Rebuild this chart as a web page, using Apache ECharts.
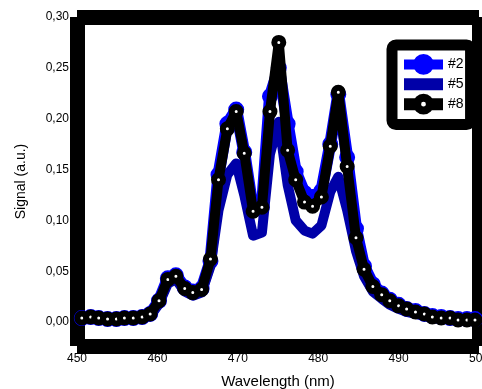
<!DOCTYPE html>
<html><head><meta charset="utf-8">
<script src="https://cdn.jsdelivr.net/npm/echarts@6/dist/echarts.min.js"></script>
<style>html,body{margin:0;padding:0;background:#fff}#c{width:482px;height:389px}</style>
</head><body><div id="c"></div>
<script>
const wavelength = [450.6,451.7,452.7,453.8,454.9,455.9,457.0,458.1,459.1,460.2,461.3,462.3,463.4,464.4,465.5,466.6,467.6,468.7,469.8,470.8,471.9,473.0,474.0,475.1,476.2,477.2,478.3,479.3,480.4,481.5,482.5,483.6,484.7,485.7,486.8,487.9,488.9,490.0,491.0,492.1,493.2,494.2,495.3,496.4,497.4,498.5,499.5];
const s2 = [0.004,0.005,0.004,0.003,0.003,0.004,0.004,0.005,0.008,0.021,0.043,0.046,0.034,0.030,0.033,0.060,0.145,0.195,0.209,0.167,0.110,0.113,0.222,0.250,0.195,0.148,0.127,0.123,0.129,0.175,0.224,0.162,0.092,0.055,0.037,0.028,0.022,0.017,0.013,0.011,0.008,0.006,0.005,0.004,0.003,0.003,0.003];
const s5 = [0.003,0.004,0.003,0.002,0.002,0.003,0.003,0.004,0.006,0.018,0.038,0.042,0.030,0.026,0.029,0.055,0.110,0.145,0.156,0.125,0.085,0.088,0.165,0.197,0.135,0.100,0.090,0.087,0.095,0.128,0.143,0.110,0.070,0.045,0.030,0.023,0.017,0.013,0.010,0.008,0.006,0.004,0.003,0.003,0.002,0.002,0.002];
const s8 = [0.004,0.005,0.004,0.003,0.003,0.004,0.004,0.005,0.008,0.021,0.042,0.045,0.033,0.029,0.032,0.062,0.140,0.190,0.207,0.166,0.109,0.113,0.207,0.275,0.169,0.140,0.118,0.114,0.123,0.173,0.226,0.153,0.083,0.052,0.035,0.027,0.021,0.016,0.013,0.010,0.008,0.005,0.004,0.004,0.002,0.002,0.002];
const seriesNames = ['#2', '#5', '#8'];
const xTicks = [450, 460, 470, 480, 490, 500];
const yTicks = [0, 0.05, 0.10, 0.15, 0.20, 0.25, 0.30];
const xName = 'Wavelength (nm)';
const yName = 'Signal (a.u.)';

const pair = (arr) => wavelength.map((w, i) => [w, arr[i]]);
const FONT = 'Arial, "Liberation Sans", sans-serif';
const frameLine = { show: true, onZero: false, lineStyle: { color: '#000', width: 15, cap: 'butt' } };

const chart = echarts.init(document.getElementById('c'), null, { renderer: 'canvas' });
chart.setOption({
  animation: false,
  backgroundColor: '#fff',
  grid: { left: 77, top: 17, width: 402, bottom: 43, containLabel: false, outerBoundsMode: 'none' },
  legend: {
    orient: 'vertical', left: 392, top: 45,
    padding: [9, 7, 10, 6],
    itemWidth: 39, itemHeight: 16, itemGap: 2.5,
    backgroundColor: '#fff', borderColor: '#000', borderWidth: 11, borderRadius: 4,
    selectedMode: false,
    textStyle: { fontSize: 14, color: '#000', fontFamily: FONT },
    data: [
      { name: seriesNames[0], itemStyle: { color: '#0000ff', borderColor: '#0000ff', borderWidth: 8 }, lineStyle: { color: '#0000ff', width: 10 } },
      { name: seriesNames[1], itemStyle: { color: 'rgba(0,0,0,0)', borderColor: 'rgba(0,0,0,0)', borderWidth: 0 }, lineStyle: { color: '#0000a8', width: 12 } },
      { name: seriesNames[2], itemStyle: { color: '#ffffff', borderColor: '#000', borderWidth: 8 }, lineStyle: { color: '#000', width: 12 } }
    ]
  },
  xAxis: [
    {
      type: 'value', position: 'bottom', min: xTicks[0], max: xTicks[xTicks.length - 1], interval: 10,
      axisLine: frameLine, axisTick: { show: false }, splitLine: { show: false },
      axisLabel: { margin: 7, fontSize: 12, color: '#000', fontFamily: FONT, showMaxLabel: true, showMinLabel: true },
      name: xName, nameLocation: 'middle', nameGap: 28,
      nameTextStyle: { fontSize: 15, color: '#000', fontFamily: FONT }
    },
    {
      type: 'value', position: 'top', min: xTicks[0], max: xTicks[xTicks.length - 1], interval: 10,
      axisLine: frameLine, axisTick: { show: false }, splitLine: { show: false }, axisLabel: { show: false }
    }
  ],
  yAxis: [
    {
      type: 'value', position: 'left', min: -0.0235, max: yTicks[yTicks.length - 1],
      axisLine: frameLine, axisTick: { show: false }, splitLine: { show: false },
      axisLabel: {
        margin: 8, fontSize: 12, color: '#000', fontFamily: FONT,
        customValues: yTicks,
        formatter: (v) => v.toFixed(2).replace('.', ',')
      },
      name: yName, nameLocation: 'middle', nameGap: 49, nameRotate: 90,
      nameTextStyle: { fontSize: 14, color: '#000', fontFamily: FONT }
    },
    {
      type: 'value', position: 'right', min: -0.0235, max: yTicks[yTicks.length - 1],
      axisLine: frameLine, axisTick: { show: false }, splitLine: { show: false }, axisLabel: { show: false }
    }
  ],
  series: [
    {
      name: seriesNames[0], type: 'line', data: pair(s2), xAxisIndex: 0, yAxisIndex: 0,
      symbol: 'circle', symbolSize: 9,
      lineStyle: { color: '#0000ff', width: 12, join: 'round' },
      itemStyle: { color: '#0000ff', borderColor: '#0000ff', borderWidth: 7 },
      emphasis: { disabled: true }, z: 2
    },
    {
      name: seriesNames[1], type: 'line', data: pair(s5), xAxisIndex: 0, yAxisIndex: 0,
      symbol: 'none',
      lineStyle: { color: '#0000a8', width: 10, join: 'round' },
      itemStyle: { color: '#0000a8' },
      emphasis: { disabled: true }, z: 3
    },
    {
      name: seriesNames[2], type: 'line', data: pair(s8), xAxisIndex: 0, yAxisIndex: 0,
      symbol: 'circle', symbolSize: 9,
      lineStyle: { color: '#000', width: 10, join: 'round' },
      itemStyle: { color: '#ffffff', borderColor: '#000', borderWidth: 6 },
      emphasis: { disabled: true }, z: 4
    }
  ]
});
</script>
</body></html>
